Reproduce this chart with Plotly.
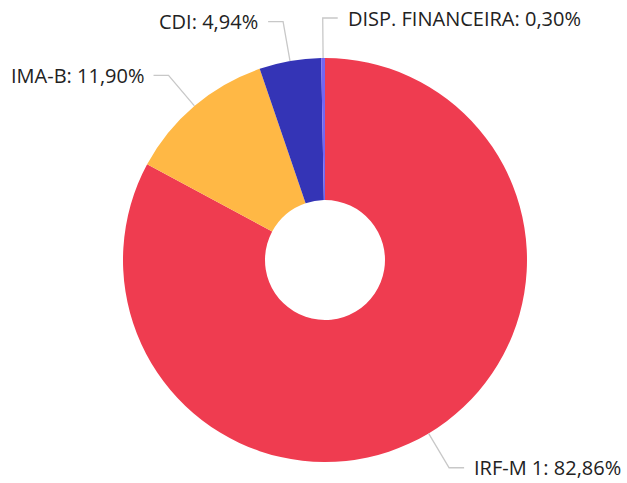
import math
import plotly.graph_objects as go

labels = ["IRF-M 1", "IMA-B", "CDI", "DISP. FINANCEIRA"]
values = [82.86, 11.90, 4.94, 0.30]
colors = ["#EF3C50", "#FFB845", "#3434B6", "#7466F2"]

W, H = 627, 483
ML, MR, MT, MB = 123, 100, 58, 21
PW = W - ML - MR
PH = H - MT - MB
R = min(PW, PH) / 2.0
CX = ML + PW / 2.0
CY = MT + PH / 2.0

fig = go.Figure(go.Pie(
    labels=labels, values=values, sort=False, direction="clockwise", rotation=0,
    hole=0.297, textinfo="none", hoverinfo="label+percent",
    marker=dict(colors=colors, line=dict(width=0)),
    domain=dict(x=[0, 1], y=[0, 1]),
))

def px2paper(x, y):
    return (x - ML) / PW, 1 - (y - MT) / PH

total = sum(values)
cum = 0.0
shapes = []
annotations = []
L1, L2, GAP = 40, 15, 8
for lab, v in zip(labels, values):
    mid = (cum + v / 2) / total * 2 * math.pi
    cum += v
    s, c = math.sin(mid), math.cos(mid)
    x0, y0 = CX + R * s, CY - R * c
    x1, y1 = CX + (R + L1) * s, CY - (R + L1) * c
    side = 1 if s > -0.05 else -1
    x2 = x1 + side * L2
    pts = [px2paper(x0, y0), px2paper(x1, y1), px2paper(x2, y1)]
    path = "M {} {} L {} {} L {} {}".format(*[v for p in pts for v in p])
    shapes.append(dict(type="path", xref="paper", yref="paper", path=path,
                       line=dict(color="#C8C8C8", width=1.3)))
    tx, ty = px2paper(x2 + side * GAP, y1)
    pct = "{:.2f}".format(v / total * 100).replace(".", ",")
    annotations.append(dict(
        x=tx, y=ty, xref="paper", yref="paper", showarrow=False,
        text=f"{lab}: {pct}%", xanchor="left" if side > 0 else "right",
        yanchor="middle", font=dict(family="Open Sans", size=20, color="#222222"),
    ))

fig.update_layout(
    width=W, height=H, showlegend=False,
    margin=dict(l=ML, r=MR, t=MT, b=MB),
    paper_bgcolor="white", plot_bgcolor="white",
    shapes=shapes, annotations=annotations,
)
fig.write_html("out.html", config={"displayModeBar": False},
               post_script="document.body.style.margin='0';")
